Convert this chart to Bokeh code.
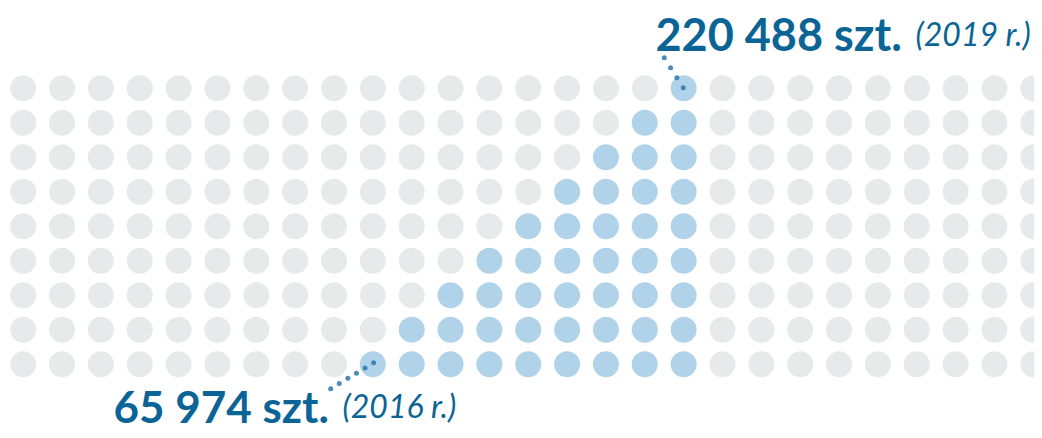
from bokeh.plotting import figure
from bokeh.models import Range1d, Label, ColumnDataSource
from bokeh.embed import file_html
from bokeh.resources import INLINE

# ---- data ----
n_cols = 27
n_rows = 9
blue_first_col = 9
blue_heights = [1, 2, 3, 4, 5, 6, 7, 8, 9]   # growth 2016 -> 2019
label_low_value = "65 974 szt."
label_low_year = "(2016 r.)"
label_high_value = "220 488 szt."
label_high_year = "(2019 r.)"

GREY = "#e8e9eb"
BLUE = "#b0d3ea"
TEXT = "#0b6496"
LEADER = "#2c79aa"

W, H = 1034, 430
p = figure(width=W, height=H, output_backend="svg", toolbar_location=None,
           x_range=Range1d(-0.584, 26.031), y_range=Range1d(-1.922, 10.542),
           min_border=0, background_fill_color="white", border_fill_color="white")
p.axis.visible = False
p.grid.visible = False
p.outline_line_color = None

blue_set = set()
for i, h in enumerate(blue_heights):
    for r in range(h):
        blue_set.add((blue_first_col + i, r))

xs, ys, cs = [], [], []
for c in range(n_cols):
    for r in range(n_rows):
        xs.append(c)
        ys.append(r)
        cs.append(BLUE if (c, r) in blue_set else GREY)
src = ColumnDataSource(dict(x=xs, y=ys, c=cs))
p.scatter("x", "y", source=src, marker="circle", size=26, fill_color="c", line_color=None)

# leader dots
low_col, low_row = blue_first_col, 0
high_col, high_row = blue_first_col + len(blue_heights) - 1, blue_heights[-1] - 1
lx = [low_col + 0.02 - 0.221 * k for k in range(6)]
ly = [low_row + 0.04 - 0.150 * k for k in range(6)]
hx = [high_col - 0.01 - 0.163 * k for k in range(4)]
hy = [high_row + 0.01 + 0.29 * k for k in range(4)]
p.scatter(lx, ly, marker="circle", size=5, fill_color=LEADER, line_color=None, fill_alpha=0.85)
p.scatter(hx, hy, marker="circle", size=5, fill_color=LEADER, line_color=None, fill_alpha=0.85)

def lab(text, x, y, size, style):
    p.add_layout(Label(text=text, x=x, y=y, x_units="screen", y_units="screen",
                       text_font="Lato", text_font_size=size, text_font_style=style,
                       text_color=TEXT, text_baseline="alphabetic", text_align="left"))

lab(label_high_value, 655, 397, "45px", "bold")
lab(label_high_year, 915, 397, "32px", "italic")
lab(label_low_value, 113, 25, "44px", "bold")
lab(label_low_year, 342, 25, "32px", "italic")

open("out.html", "w").write(file_html(p, INLINE))
